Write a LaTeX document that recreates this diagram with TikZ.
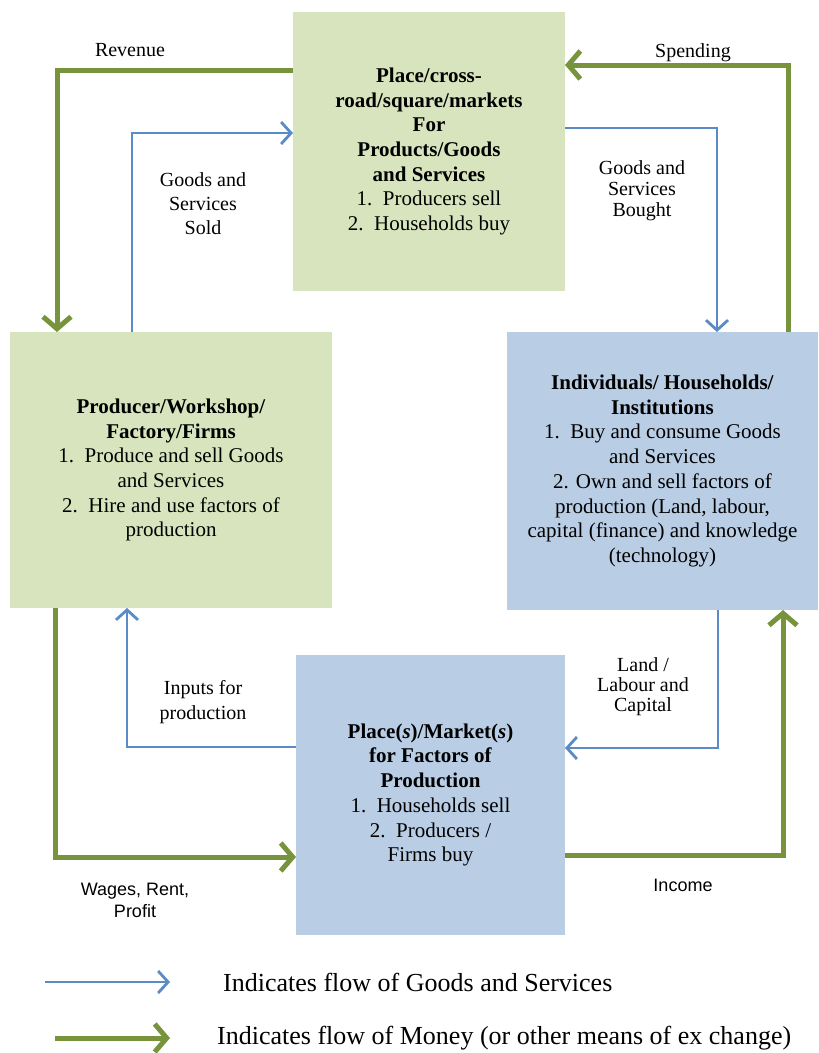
\documentclass[tikz,border=0pt]{standalone}
\usepackage{fontspec}
\setmainfont{Liberation Serif}
\newfontfamily\labsans{Liberation Sans}
\usetikzlibrary{arrows.meta}
\definecolor{gfill}{HTML}{D7E4BD}
\definecolor{bfill}{HTML}{B9CDE5}
\definecolor{garrow}{HTML}{77933C}
\definecolor{barrow}{HTML}{5B8BC6}
\tikzset{
  boxtext/.style={font=\fontsize{21}{24.7}\selectfont, align=center, inner sep=0pt, outer sep=0pt, rectangle},
  gbox/.style={boxtext, fill=gfill},
  bbox/.style={boxtext, fill=bfill},
  gline/.style={draw=garrow, line width=5pt, -{Straight Barb[length=12pt,width=28pt]}},
  bline/.style={draw=barrow, line width=2.8pt, -{Straight Barb[length=10pt,width=22pt]}},
  lab/.style={font=\fontsize{20}{23}\selectfont, align=center, inner sep=1pt},
  sanslab/.style={font=\labsans\fontsize{18}{22}\selectfont, align=center, inner sep=1pt},
  legtext/.style={font=\fontsize{26}{30}\selectfont, anchor=west, inner sep=0pt}
}
\begin{document}
\begin{tikzpicture}[x=1pt, y=-1pt]
\useasboundingbox (0,0) rectangle (819,1053);
\fill[white] (0,0) rectangle (819,1053);

% boxes
\node[gbox, minimum width=272pt, minimum height=279pt] (top) at (429,151.5)
  {\textbf{Place/cross-}\\\textbf{road/square/markets}\\\textbf{For}\\\textbf{Products/Goods}\\\textbf{and Services}\\1.\enspace Producers sell\\2.\enspace Households buy};
\node[gbox, minimum width=322pt, minimum height=276pt] (left) at (171,470)
  {\textbf{Producer/Workshop/}\\\textbf{Factory/Firms}\\1.\enspace Produce and sell Goods\\and Services\\2.\enspace Hire and use factors of\\production};
\node[bbox, minimum width=311pt, minimum height=278pt] (right) at (662.5,471)
  {\textbf{Individuals/ Households/}\\\textbf{Institutions}\\1.\enspace Buy and consume Goods\\and Services\\2. Own and sell factors of\\production (Land, labour,\\capital (finance) and knowledge\\(technology)};
\node[bbox, minimum width=269pt, minimum height=280pt] (bottom) at (430.5,795)
  {\textbf{Place(\textit{s})/Market(\textit{s})}\\\textbf{for Factors of}\\\textbf{Production}\\1.\enspace Households sell\\2.\enspace Producers /\\Firms buy};

% corner coordinates
\coordinate (revc) at (57,70);
\coordinate (soldc) at (132,133);
\coordinate (spc) at (788,65);
\coordinate (boc) at (717,128);
\coordinate (lac) at (718,748);
\coordinate (inc) at (783,855);
\coordinate (wac) at (55,857);
\coordinate (ipc) at (127,747);

% connectors
\draw[gline] (revc -| top.west) -- (revc) -- (revc |- left.north);
\draw[bline] (soldc |- left.north) -- (soldc) -- (soldc -| top.west);
\draw[gline] (spc |- right.north) -- (spc) -- (spc -| top.east);
\draw[bline] (boc -| top.east) -- (boc) -- (boc |- right.north);
\draw[bline] (lac |- right.south) -- (lac) -- (lac -| bottom.east);
\draw[gline] (inc -| bottom.east) -- (inc) -- (inc |- right.south);
\draw[gline] (wac |- left.south) -- (wac) -- (wac -| bottom.west);
\draw[bline] (ipc -| bottom.west) -- (ipc) -- (ipc |- left.south);

% labels
\node[lab] (lrev) at (130,50) {Revenue};
\node[lab] (lspend) at (693,53) {Spending};
\node[lab, font=\fontsize{20}{24}\selectfont] (lsold) at (203,204) {Goods and\\Services\\Sold};
\node[lab, font=\fontsize{20}{21}\selectfont] (lbought) at (642,191) {Goods and\\Services\\Bought};
\node[lab, font=\fontsize{20}{25}\selectfont] (linputs) at (203,702) {Inputs for\\production};
\node[lab, font=\fontsize{20}{20}\selectfont] (lland) at (643,687) {Land /\\Labour and\\Capital};
\node[sanslab] (lwages) at (135,900) {Wages, Rent,\\Profit};
\node[sanslab] (lincome) at (683,885) {Income};

% legend
\coordinate (lbs) at (45,982);
\coordinate (lbe) at (170,982);
\coordinate (lgs) at (55,1038);
\coordinate (lge) at (170,1038);
\draw[bline] (lbs) -- (lbe);
\draw[gline] (lgs) -- (lge);
\node[legtext] (legb) at (223,982) {Indicates flow of Goods and Services};
\node[legtext] (legg) at (217,1038) {Indicates flow of Money (or other means of ex change)};
\end{tikzpicture}
\end{document}
